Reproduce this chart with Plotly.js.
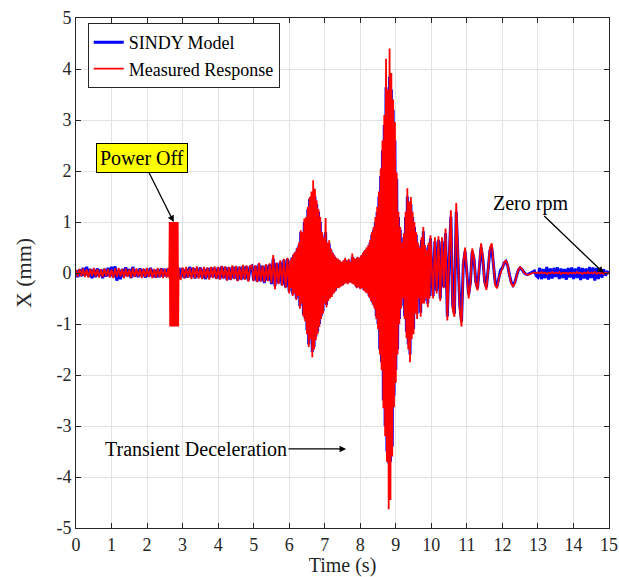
<!DOCTYPE html>
<html>
<head>
<meta charset="utf-8">
<script src="https://cdn.plot.ly/plotly-3.0.1.min.js"></script>
<style>html,body{margin:0;padding:0;background:#fff;}#chart{width:619px;height:577px;}</style>
</head>
<body>
<div id="chart"></div>
<script>
// Recording segments of the measured response: start time (s) and sampling interval (s)
const measuredStart = [0, 2.625, 2.95, 6, 10];
const measuredStep = [0.05, 0.0125, 0.05, 0.025, 0.05];
// Recording segments of the SINDY model response
const sindyStart = [0, 6, 10];
const sindyStep = [0.05, 0.025, 0.05];

// Measured response (mm)
// 0 - 2.60 s
const measuredA1 = [
  0.06,-0.07,0.08,-0.06,0.09,-0.08,0.07,-0.09,0.08,-0.06,0.1,-0.07,0.08,-0.09,0.07,-0.08,0.09,-0.06,0.08,-0.09,
  0.07,-0.1,0.09,-0.08,0.1,-0.07,0.08,-0.1,0.09,-0.08,0.07,-0.09,0.1,-0.08,0.09,-0.07,0.08,-0.1,0.09,-0.08,
  0.1,-0.08,0.09,-0.1,0.08,-0.09,0.1,-0.08,0.09,-0.1,0.08,-0.09,0.1
];
// 2.625 - 2.90 s (power-off transient)
const measuredA2 = [
  -0.1,1.0,-1.05,1.0,-1.05,1.0,-1.05,1.0,-1.05,1.0,-1.05,1.0,-1.05,1.0,-1.05,1.0,-1.05,1.0,-1.05,1.0,-1.05,0.1,-0.1
];
// 2.95 - 5.95 s
const measuredA3 = [
  -0.12,
  0.11,-0.1,0.12,-0.09,0.1,-0.12,0.11,-0.1,0.13,-0.11,0.1,-0.12,0.12,-0.1,0.11,-0.13,0.12,-0.1,0.13,-0.12,
  0.12,-0.13,0.14,-0.11,0.13,-0.15,0.12,-0.14,0.15,-0.12,0.14,-0.16,0.13,-0.14,0.16,-0.13,0.15,-0.17,0.14,0.15,
  -0.16,0.15,-0.18,0.2,-0.17,0.15,-0.18,0.17,-0.16,0.19,-0.2,0.35,-0.32,0.2,-0.22,0.25,-0.25,0.28,-0.3,0.3
];
// 6 - 9.975 s
const measuredB = [
  -0.4,0.25,-0.3,0.31,-0.45,0.38,-0.4,0.42,-0.53,0.5,
  -0.45,0.6,-0.7,0.84,-0.6,0.8,-0.86,1.07,-0.95,1.1,
  -1.2,1.3,-1.45,1.49,-1.3,1.6,-1.65,1.82,-1.5,1.65,
  -1.32,1.42,-1.2,1.25,-1.06,1.1,-0.9,0.8,-0.8,0.7,
  -0.6,1.08,-0.67,0.6,-0.55,0.64,-0.5,0.48,-0.47,0.4,
  -0.4,0.35,-0.36,0.3,-0.3,0.28,-0.3,0.25,-0.27,0.22,
  -0.25,0.25,-0.22,0.3,-0.2,0.24,-0.22,0.28,-0.18,0.22,
  -0.2,0.38,-0.22,0.3,-0.25,0.28,-0.3,0.32,-0.28,0.3,
  -0.32,0.35,-0.3,0.4,-0.35,0.45,-0.38,0.5,-0.4,0.55,
  -0.48,0.65,-0.55,0.8,-0.62,0.9,-0.7,1.1,-0.9,1.3,
  -1.1,1.6,-1.6,2.05,-1.9,2.6,-2.65,3.1,-3.2,4.2,
  -3.7,3.6,-4.63,4.4,-4.45,3.92,-3.6,3.4,-2.63,2.96,
  -2.15,1.97,-1.6,1.2,-1.0,0.9,-0.7,0.6,-0.5,0.78,
  -0.9,1.2,-1.28,1.66,-1.5,1.4,-1.75,1.49,-1.3,1.2,
  -1.2,1.0,-0.8,0.8,-0.9,0.6,-0.5,0.5,-0.86,0.7,
  -0.6,0.9,-0.6,0.55,-0.5,0.45,-0.67,0.6,-0.5,0.74
];
// 10 - 15 s
const measuredC = [
  0.3,-0.5,0.7,-0.4,0.72,-0.55,0.7,-0.3,0.87,-0.93,0.3,1.23,-0.7,-0.86,1.37,0.2,-0.7,-1.05,0.2,0.5,
  -0.1,-0.5,-0.2,0.48,0.3,-0.2,-0.34,0.1,0.58,0.3,-0.2,-0.33,0.1,0.5,0.58,0.1,-0.25,-0.3,-0.1,0.0,
  0.1,0.2,0.25,0.15,-0.05,-0.2,-0.27,-0.2,-0.05,0.07,0.11,0.08,0.02,-0.02,-0.03,-0.03,-0.01,0.0,0.01,0.0,
  0.01,-0.01,0.02,-0.01,0.01,-0.02,0.01,-0.01,0.02,-0.01,0.01,-0.01,0.02,-0.02,0.01,-0.01,0.01,-0.02,0.01,-0.01,
  0.01,-0.01,0.02,-0.01,0.01,-0.02,0.01,-0.01,0.02,-0.01,0.01,-0.01,0.02,-0.02,0.01,-0.01,0.01,-0.02,0.01,-0.01,
  0.0
];

// SINDY model response (mm)
// 0 - 5.95 s
const sindyA = [
  0.05,-0.08,0.07,-0.06,0.1,-0.05,0.12,-0.07,0.08,-0.1,0.06,-0.08,0.09,-0.06,0.07,-0.1,0.08,-0.07,0.1,-0.06,
  0.12,-0.08,0.13,-0.15,0.06,-0.12,0.08,-0.07,0.11,-0.06,0.08,-0.1,0.12,-0.07,0.06,-0.08,0.09,-0.06,0.07,-0.09,
  0.08,-0.07,0.1,-0.08,0.06,-0.09,0.07,-0.08,0.09,-0.07,0.08,-0.06,0.09,-0.07,0.08,-0.06,0.07,-0.09,0.1,-0.08,
  0.09,-0.1,0.08,-0.09,0.12,-0.08,0.1,-0.11,0.09,-0.08,0.11,-0.1,0.08,-0.12,0.1,-0.09,0.11,-0.08,0.1,-0.11,
  0.11,-0.12,0.13,-0.1,0.12,-0.14,0.11,-0.13,0.12,-0.11,0.13,-0.15,0.12,-0.13,0.14,-0.12,0.13,-0.15,0.12,0.14,
  -0.15,0.14,-0.17,0.18,-0.16,0.14,-0.2,0.16,-0.15,0.17,-0.22,0.28,-0.26,0.2,-0.2,0.22,-0.24,0.26,-0.28,0.28
];
// 6 - 9.975 s
const sindyB = [
  -0.36,0.22,-0.28,0.3,-0.42,0.35,-0.38,0.4,-0.5,0.48,
  -0.42,0.55,-0.65,0.8,-0.58,0.75,-0.82,1.0,-0.9,1.05,
  -1.12,1.25,-1.4,1.45,-1.25,1.5,-1.55,1.55,-1.45,1.5,
  -1.25,1.35,-1.15,1.2,-1.0,1.0,-0.85,0.75,-0.75,0.65,
  -0.58,0.8,-0.62,0.56,-0.5,0.58,-0.45,0.45,-0.42,0.38,
  -0.38,0.32,-0.34,0.28,-0.28,0.26,-0.28,0.22,-0.25,0.2,
  -0.24,0.22,-0.2,0.26,-0.18,0.22,-0.2,0.25,-0.16,0.2,
  -0.18,0.32,-0.2,0.28,-0.22,0.26,-0.28,0.3,-0.26,0.28,
  -0.3,0.32,-0.28,0.36,-0.33,0.42,-0.35,0.46,-0.38,0.5,
  -0.45,0.6,-0.5,0.75,-0.58,0.85,-0.65,1.0,-0.85,1.2,
  -1.0,1.5,-1.5,1.9,-1.75,2.4,-2.5,2.9,-3.0,3.64,
  -3.5,3.4,-3.73,3.85,-3.7,3.6,-3.4,3.2,-2.4,2.6,
  -1.9,1.85,-1.5,1.1,-0.9,0.85,-0.65,0.55,-0.45,0.7,
  -0.85,1.1,-1.15,1.5,-1.4,1.3,-1.6,1.35,-1.2,1.1,
  -1.1,0.9,-0.75,0.75,-0.8,0.55,-0.45,0.45,-0.78,0.65,
  -0.55,0.82,-0.55,0.5,-0.45,0.42,-0.6,0.55,-0.45,0.68
];
// 10 - 15 s
const sindyC = [
  0.25,-0.45,0.62,-0.35,0.65,-0.5,0.62,-0.28,0.78,-0.85,0.25,1.1,-0.62,-0.8,1.2,0.15,-0.62,-0.95,0.18,0.42,
  -0.08,-0.42,-0.18,0.42,0.28,-0.16,-0.3,0.08,0.5,0.27,-0.16,-0.28,0.08,0.44,0.5,0.1,-0.2,-0.26,-0.1,0.06,
  0.1,0.2,0.23,0.14,-0.04,-0.18,-0.24,-0.18,-0.05,0.06,0.1,0.07,0.02,-0.02,-0.03,-0.02,0.0,0.02,0.04,-0.05,
  -0.08,0.1,-0.12,0.08,-0.1,0.12,-0.13,0.09,-0.11,0.1,-0.08,0.11,-0.12,0.09,-0.1,0.08,-0.13,0.1,-0.09,0.11,
  -0.12,0.09,-0.1,0.12,-0.14,0.1,-0.11,0.09,-0.13,0.12,-0.1,0.11,-0.15,0.1,-0.12,0.1,-0.09,0.07,-0.05,0.02,
  0.0
];

const xTickVals = [0,1,2,3,4,5,6,7,8,9,10,11,12,13,14,15];
const xTickText = ['0','1','2','3','4','5','6','7','8','9','10','11','12','13','14','15'];
const yTickVals = [-5,-4,-3,-2,-1,0,1,2,3,4,5];
const yTickText = ['-5','-4','-3','-2','-1','0','1','2','3','4','5'];

const seriesNames = ['SINDY Model', 'Measured Response'];
const annotationTexts = ['Power Off', 'Zero rpm', 'Transient Deceleration'];
const annotationPoints = [[2.75, 1.0], [14.85, 0.0], [7.6, -3.45]];

function joinSegments(segs, starts, steps) {
  const x = [], y = [];
  segs.forEach((vals, s) => {
    vals.forEach((v, i) => {
      x.push(+(starts[s] + i * steps[s]).toFixed(5));
      y.push(v);
    });
  });
  return {x, y};
}
const measuredSeries = joinSegments([measuredA1, measuredA2, measuredA3, measuredB, measuredC], measuredStart, measuredStep);
const sindySeries = joinSegments([sindyA, sindyB, sindyC], sindyStart, sindyStep);

const FONT = 'Liberation Serif, Times New Roman, serif';

const traces = [
  {x: sindySeries.x, y: sindySeries.y, type: 'scatter', mode: 'lines', name: seriesNames[0],
   line: {color: '#0000ff', width: 3}},
  {x: measuredSeries.x, y: measuredSeries.y, type: 'scatter', mode: 'lines', name: seriesNames[1],
   line: {color: '#ff0000', width: 1.8}}
];

const axisCommon = {
  showline: true, linecolor: '#262626', linewidth: 1, mirror: 'ticks',
  ticks: 'inside', ticklen: 5, tickwidth: 1, tickcolor: '#262626',
  showgrid: true, gridcolor: '#e2e2e2', gridwidth: 1, zeroline: false,
  tickfont: {family: FONT, size: 18, color: '#262626'}
};

const layout = {
  width: 619, height: 577,
  margin: {l: 76, r: 10, t: 18, b: 49},
  paper_bgcolor: '#ffffff', plot_bgcolor: '#ffffff',
  font: {family: FONT, color: '#262626'},
  showlegend: true,
  legend: {x: 0.022, y: 0.99, xanchor: 'left', yanchor: 'top',
    bgcolor: '#ffffff', bordercolor: '#262626', borderwidth: 1,
    font: {family: FONT, size: 18, color: '#000000'}, tracegroupgap: 0},
  xaxis: Object.assign({}, axisCommon, {range: [0, 15], tickmode: 'array', tickvals: xTickVals, ticktext: xTickText,
    title: {text: 'Time (s)', font: {family: FONT, size: 20, color: '#262626'}, standoff: 3}}),
  yaxis: Object.assign({}, axisCommon, {range: [-5, 5], tickmode: 'array', tickvals: yTickVals, ticktext: yTickText,
    title: {text: 'X (mm)', font: {family: FONT, size: 22, color: '#262626'}, standoff: 18}}),
  annotations: [
    {x: annotationPoints[0][0], y: annotationPoints[0][1], xref: 'x', yref: 'y', text: annotationTexts[0],
     showarrow: true, ax: -32, ay: -64, arrowhead: 2, arrowsize: 1, arrowwidth: 1.3, arrowcolor: '#000',
     bgcolor: '#ffff00', bordercolor: '#000', borderwidth: 1, borderpad: 3,
     font: {family: FONT, size: 20, color: '#000'}},
    {x: annotationPoints[1][0], y: annotationPoints[1][1], xref: 'x', yref: 'y', text: annotationTexts[1],
     showarrow: true, ax: -73, ay: -70, arrowhead: 2, arrowsize: 1, arrowwidth: 1.3, arrowcolor: '#000',
     font: {family: FONT, size: 20, color: '#000'}},
    {x: annotationPoints[2][0], y: annotationPoints[2][1], xref: 'x', yref: 'y', text: annotationTexts[2],
     showarrow: true, ax: -150, ay: 0, arrowhead: 2, arrowsize: 1, arrowwidth: 1.3, arrowcolor: '#000',
     font: {family: FONT, size: 20, color: '#000'}}
  ]
};

Plotly.newPlot('chart', traces, layout, {displayModeBar: false, staticPlot: true});
</script>
</body>
</html>
